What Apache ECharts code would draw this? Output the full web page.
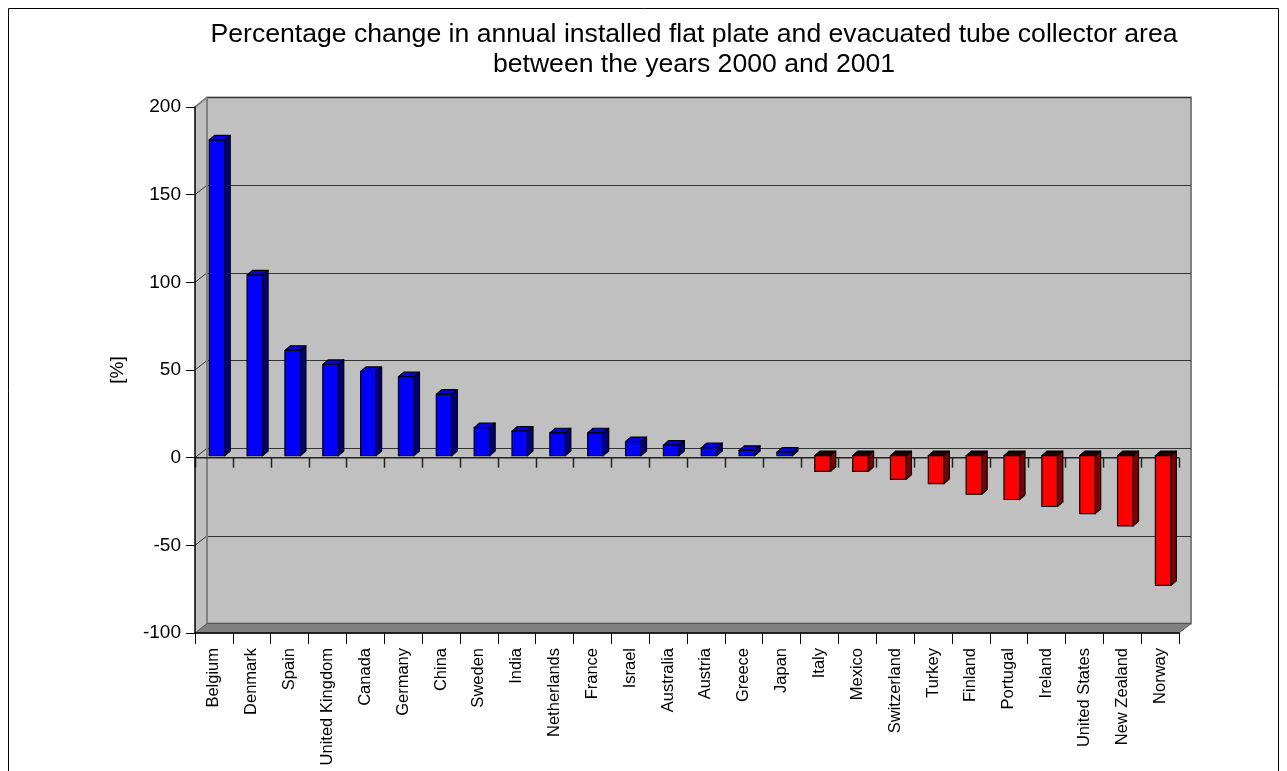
<!DOCTYPE html>
<html>
<head>
<meta charset="utf-8">
<script src="https://cdn.jsdelivr.net/npm/echarts@6/dist/echarts.min.js"></script>
<style>
html,body{margin:0;padding:0;background:#fff;}
#chart{width:1287px;height:771px;}
</style>
</head>
<body>
<div id="chart"></div>
<script>
const categories = ['Belgium','Denmark','Spain','United Kingdom','Canada','Germany','China','Sweden','India','Netherlands','France','Israel','Australia','Austria','Greece','Japan','Italy','Mexico','Switzerland','Turkey','Finland','Portugal','Ireland','United States','New Zealand','Norway'];
const values = [180, 103, 60, 52, 48, 45, 35, 16, 14, 13, 13, 8, 6, 4.5, 3, 2, -9, -9, -13.5, -16, -22, -25, -29, -33, -40, -74];
const yMin = -100, yMax = 200, yStep = 50;
const yTicks = [-100, -50, 0, 50, 100, 150, 200];
const titleLines = ['Percentage change in annual installed flat plate and evacuated tube collector area', 'between the years 2000 and 2001'];
const yName = '[%]';

const FONT = "'Liberation Sans', Arial, sans-serif";
const DEPTH_X = 12, DEPTH_Y = 9.5;
const G = {left: 195, top: 107, width: 984, height: 526};

const chart = echarts.init(document.getElementById('chart'), null, {renderer: 'canvas'});

function frameRender(params, api) {
  const n = categories.length;
  const bw = api.size([1, 0])[0];
  const xL = api.coord([0, 0])[0] - bw / 2;
  const xR = api.coord([n - 1, 0])[0] + bw / 2;
  const yTop = api.coord([0, yMax])[1];
  const yBot = api.coord([0, yMin])[1];
  const yZero = api.coord([0, 0])[1];
  const children = [];
  children.push({type: 'polygon', shape: {points: [[xL, yTop], [xL + DEPTH_X, yTop - DEPTH_Y], [xL + DEPTH_X, yBot - DEPTH_Y], [xL, yBot]]}, style: {fill: '#c0c0c0', stroke: null}});
  children.push({type: 'polygon', shape: {points: [[xL, yBot], [xL + DEPTH_X, yBot - DEPTH_Y], [xR + DEPTH_X, yBot - DEPTH_Y], [xR, yBot]]}, style: {fill: '#808080', stroke: '#555', lineWidth: 1}});
  yTicks.forEach(function (t) {
    if (t === yMin) return;
    const y = api.coord([0, t])[1];
    children.push({type: 'line', shape: {x1: xL, y1: y, x2: xL + DEPTH_X, y2: y - DEPTH_Y}, style: {stroke: t === yMax ? '#808080' : '#333', lineWidth: t === yMax ? 2 : 1}});
  });
  children.push({type: 'line', shape: {x1: xL + DEPTH_X, y1: yTop - DEPTH_Y, x2: xL + DEPTH_X, y2: yBot - DEPTH_Y}, style: {stroke: '#808080', lineWidth: 2}});
  // zero plane line with ticks
  children.push({type: 'line', shape: {x1: xL, y1: yZero, x2: xR, y2: yZero}, style: {stroke: '#222', lineWidth: 1.5}});
  for (let i = 0; i <= n; i++) {
    const x = Math.round(xL + i * bw) + 0.5;
    children.push({type: 'line', shape: {x1: x, y1: yZero, x2: x, y2: yZero + 10}, style: {stroke: '#222', lineWidth: 1.5}});
  }
  return {type: 'group', children: children};
}

function barRender(params, api) {
  const i = api.value(0), v = api.value(1);
  const bw = api.size([1, 0])[0];
  const cx = api.coord([i, 0])[0];
  const y0 = api.coord([i, 0])[1] - 2;
  const yv = api.coord([i, v])[1] - 2;
  const left = cx - 0.124 * bw;
  const w = 0.412 * bw;
  const dx = 0.143 * bw;
  const dy = 4.6;
  const pos = v >= 0;
  const front = pos ? '#0000ff' : '#ff0000';
  const side = pos ? '#000080' : '#800000';
  const top = pos ? '#0000e0' : '#1c0000';
  const yHi = pos ? yv : y0;
  const yLo = pos ? y0 : yv;
  const st = {stroke: '#000', lineWidth: 1.2, lineJoin: 'round'};
  return {type: 'group', children: [
    {type: 'polygon', shape: {points: [[left + w, yHi], [left + w + dx, yHi - dy], [left + w + dx, yLo - dy], [left + w, yLo]]}, style: Object.assign({fill: side}, st)},
    {type: 'polygon', shape: {points: [[left, yHi], [left + dx, yHi - dy], [left + w + dx, yHi - dy], [left + w, yHi]]}, style: Object.assign({fill: top}, st)},
    {type: 'rect', shape: {x: left, y: yHi, width: w, height: yLo - yHi}, style: Object.assign({fill: front}, st)}
  ]};
}

const option = {
  backgroundColor: '#fff',
  animation: false,
  title: {
    text: titleLines.join('\n'),
    left: 689, top: 15, textAlign: 'center',
    textStyle: {fontFamily: FONT, fontSize: 26.6, fontWeight: 'normal', color: '#000', lineHeight: 30}
  },
  graphic: [{type: 'rect', shape: {x: 8.5, y: 8.5, width: 1270, height: 800}, style: {fill: null, stroke: '#000', lineWidth: 1}, z: -1}],
  grid: [
    {left: G.left, top: G.top, width: G.width, height: G.height, containLabel: false},
    {left: G.left + DEPTH_X, top: G.top - DEPTH_Y, width: G.width, height: G.height, show: true, backgroundColor: '#c0c0c0', borderColor: '#808080', borderWidth: 2}
  ],
  xAxis: [
    {type: 'category', gridIndex: 0, data: categories, z: 5,
      axisLine: {show: true, onZero: false, lineStyle: {color: '#000', width: 1.5}},
      axisTick: {show: true, length: 11, alignWithLabel: false, lineStyle: {color: '#000'}},
      axisLabel: {rotate: 90, interval: 0, margin: 15, fontFamily: FONT, fontSize: 16.5, color: '#000'},
      splitLine: {show: false}},
    {type: 'category', gridIndex: 1, data: categories, show: false}
  ],
  yAxis: [
    {type: 'value', gridIndex: 0, min: yMin, max: yMax, interval: yStep, z: 5,
      name: yName, nameLocation: 'middle', nameRotate: 90, nameGap: 68,
      nameTextStyle: {fontFamily: FONT, fontSize: 19, color: '#000'},
      axisLine: {show: true, lineStyle: {color: '#000', width: 1.5}},
      axisTick: {show: true, length: 9, lineStyle: {color: '#000'}},
      axisLabel: {margin: 14, fontFamily: FONT, fontSize: 19, color: '#000'},
      splitLine: {show: false}},
    {type: 'value', gridIndex: 1, min: yMin, max: yMax, interval: yStep,
      axisLine: {show: false}, axisTick: {show: false}, axisLabel: {show: false},
      splitLine: {show: true, lineStyle: {color: '#333', width: 1}}}
  ],
  series: [
    {type: 'custom', xAxisIndex: 0, yAxisIndex: 0, z: 2, clip: false, silent: true,
      renderItem: frameRender, data: [[0, 0]]},
    {type: 'custom', xAxisIndex: 0, yAxisIndex: 0, z: 3, clip: false,
      renderItem: barRender, encode: {x: 0, y: 1},
      data: values.map(function (v, i) { return [i, v]; })}
  ]
};
chart.setOption(option);
</script>
</body>
</html>
